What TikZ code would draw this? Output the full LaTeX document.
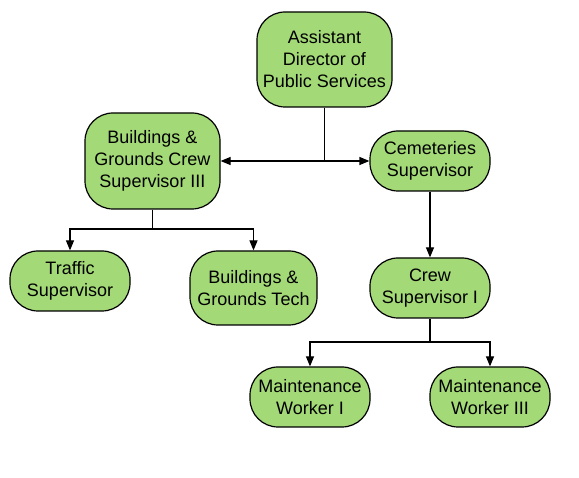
\documentclass[tikz,border=0pt]{standalone}
\usepackage{fontspec}
\setmainfont{Liberation Sans}
\usetikzlibrary{arrows.meta}
\definecolor{boxgreen}{RGB}{163,217,119}
\tikzset{
  box/.style={draw=black, line width=1.2pt, fill=boxgreen, rounded corners=28pt,
    align=center, inner sep=0pt, font=\fontsize{18}{22}\selectfont},
  conn/.style={line width=1.2pt, draw=black},
  arr/.style={conn, -{Triangle[length=10pt,width=8pt]}}
}
\begin{document}
\begin{tikzpicture}[x=1pt,y=-1pt]
\useasboundingbox (0,0) rectangle (579,478);
\node[box, minimum width=135pt, minimum height=95pt] (ad) at (324.5,59.5) {Assistant\\Director of\\Public Services};
\node[box, minimum width=135pt, minimum height=96pt] (bg) at (152.5,161) {Buildings \&\\Grounds Crew\\Supervisor III};
\node[box, minimum width=120pt, minimum height=60pt] (cem) at (430,161) {Cemeteries\\Supervisor};
\node[box, minimum width=120pt, minimum height=60pt] (tr) at (70,281) {Traffic\\Supervisor};
\node[box, minimum width=127pt, minimum height=74pt] (tech) at (253.5,288) {Buildings \&\\Grounds Tech};
\node[box, minimum width=120pt, minimum height=60pt] (crew) at (430,288) {Crew\\Supervisor I};
\node[box, minimum width=120pt, minimum height=60pt] (mw1) at (310,397) {Maintenance\\Worker I};
\node[box, minimum width=120pt, minimum height=60pt] (mw3) at (490,397) {Maintenance\\Worker III};
\coordinate (j1) at (324.5,161);
\coordinate (j2) at (152.5,229);
\coordinate (j3) at (430,342);
\draw[conn] (ad.south) -- (j1);
\draw[arr] (j1) -- (bg.east);
\draw[arr] (j1) -- (cem.west);
\draw[conn] (bg.south) -- (j2);
\draw[arr] (j2) -| (tr.north);
\draw[arr] (j2) -| (tech.north);
\draw[arr] (cem.south) -- (crew.north);
\draw[conn] (crew.south) -- (j3);
\draw[arr] (j3) -| (mw1.north);
\draw[arr] (j3) -| (mw3.north);
\end{tikzpicture}
\end{document}
